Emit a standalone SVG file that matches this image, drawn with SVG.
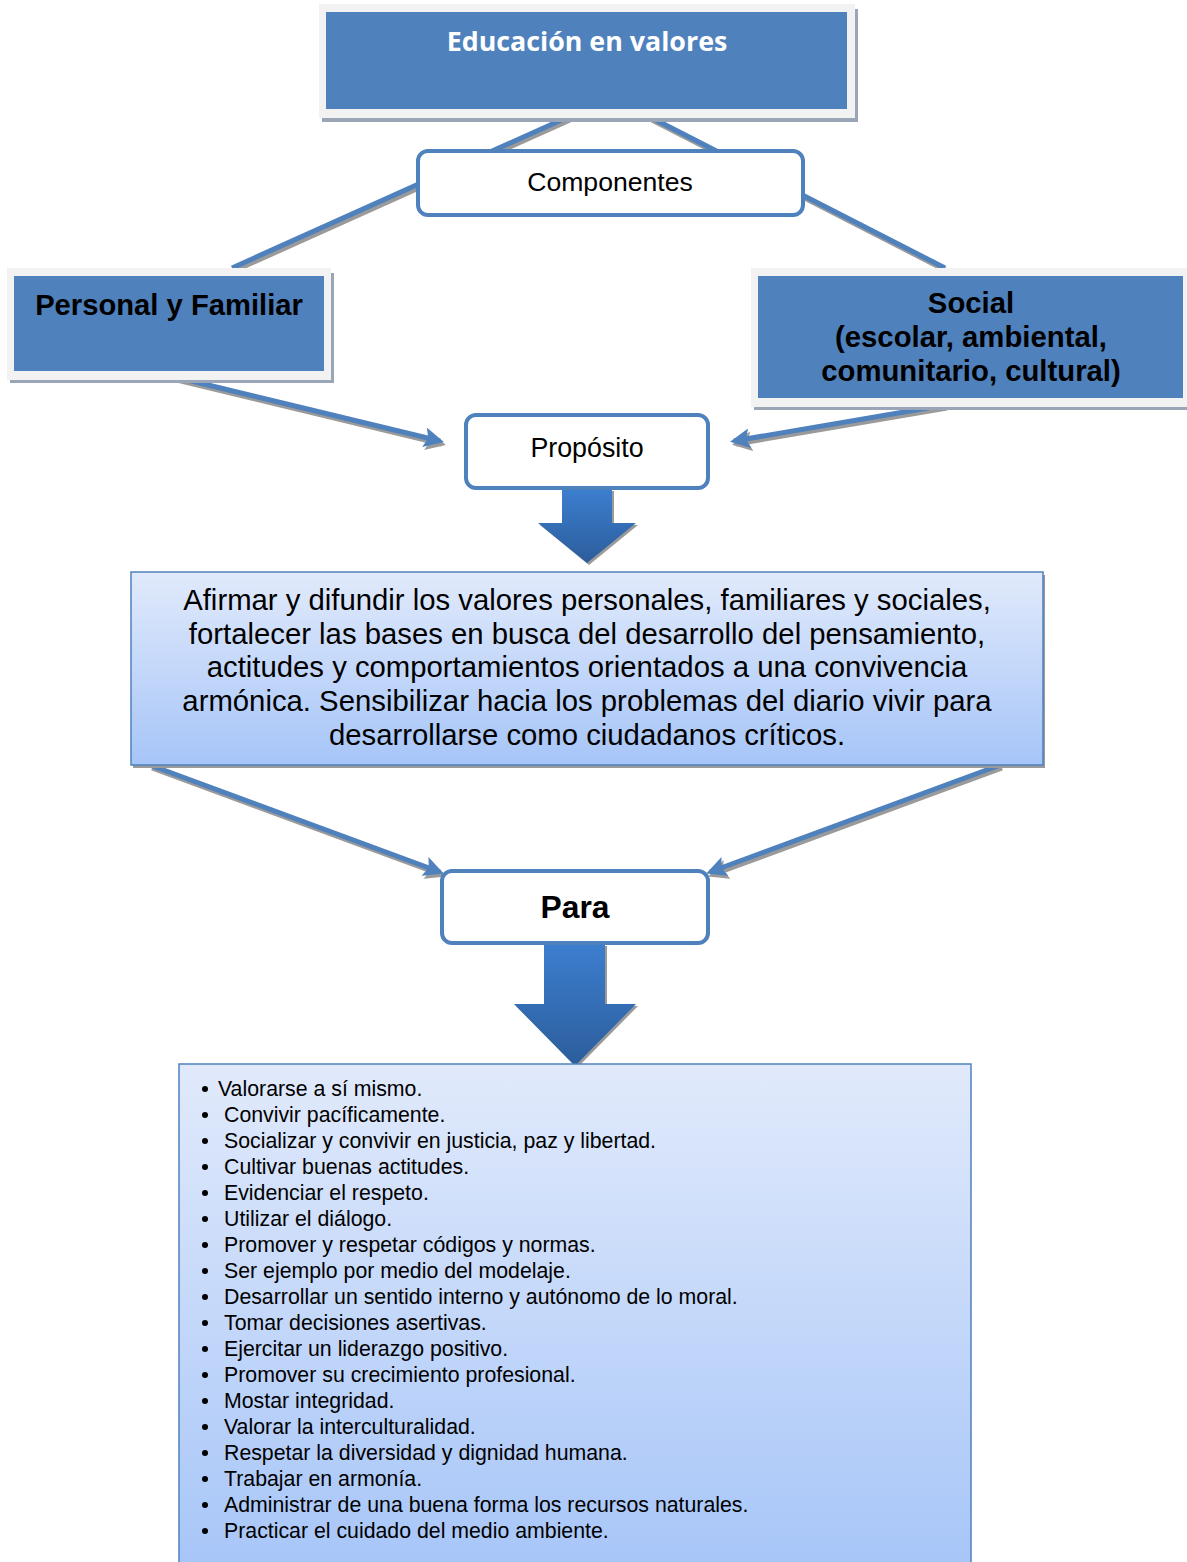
<svg xmlns="http://www.w3.org/2000/svg" xmlns:xlink="http://www.w3.org/1999/xlink" width="1187" height="1562" viewBox="0 0 1187 1562">
  <style>
    .frame { fill: #f2f2f2; }
    .fshadow { fill: #9aa6b8; }
    .blue { fill: #4f81bd; }
    .pill { fill: #ffffff; stroke: #4f81bd; stroke-width: 4; }
    .conn { stroke: #4f81bd; stroke-width: 5; fill: none; }
    .connsh { stroke: #9a9a9a; stroke-width: 5; fill: none; }
    .t { font-family: "Liberation Sans", Arial, sans-serif; fill: #000; text-anchor: middle; }
    .tb { font-weight: bold; }
    .li { font-family: "Liberation Sans", Arial, sans-serif; font-size: 21.3px; fill: #000; }
  </style>
  <defs>
    <marker id="head" viewBox="0 0 10 10" refX="8" refY="5" markerWidth="4" markerHeight="4" orient="auto" markerUnits="strokeWidth">
      <path d="M0,0 L10,5 L0,10 L2,5 z" fill="#4f81bd"/>
    </marker>
    <marker id="headsh" viewBox="0 0 10 10" refX="8" refY="5" markerWidth="4" markerHeight="4" orient="auto" markerUnits="strokeWidth">
      <path d="M0,0 L10,5 L0,10 L2,5 z" fill="#9a9a9a"/>
    </marker>
    <linearGradient id="boxfill" x1="0" y1="0" x2="0" y2="1">
      <stop offset="0" stop-color="#e1eafb"/>
      <stop offset="1" stop-color="#a6c5f8"/>
    </linearGradient>
    <linearGradient id="bigarrow" x1="0" y1="0" x2="0" y2="1">
      <stop offset="0" stop-color="#3c7ecf"/>
      <stop offset="1" stop-color="#2c5d9b"/>
    </linearGradient>
  </defs>

  <!-- connectors -->
  <g id="connectors">
    <g transform="translate(2,3)">
      <line class="connsh" x1="568" y1="117" x2="232" y2="268"/>
      <line class="connsh" x1="650" y1="117" x2="945" y2="268"/>
      <line class="connsh" x1="175" y1="377" x2="440" y2="441" marker-end="url(#headsh)"/>
      <line class="connsh" x1="945" y1="405" x2="734" y2="441" marker-end="url(#headsh)"/>
      <line class="connsh" x1="150" y1="765" x2="440" y2="872" marker-end="url(#headsh)"/>
      <line class="connsh" x1="1000" y1="765" x2="710" y2="872" marker-end="url(#headsh)"/>
    </g>
    <line class="conn" x1="568" y1="117" x2="232" y2="268"/>
    <line class="conn" x1="650" y1="117" x2="945" y2="268"/>
    <line class="conn" x1="175" y1="377" x2="440" y2="441" marker-end="url(#head)"/>
    <line class="conn" x1="945" y1="405" x2="734" y2="441" marker-end="url(#head)"/>
    <line class="conn" x1="150" y1="765" x2="440" y2="872" marker-end="url(#head)"/>
    <line class="conn" x1="1000" y1="765" x2="710" y2="872" marker-end="url(#head)"/>
    <!-- block arrows -->
    <path d="M564,491 h50 v34 h24 l-49,40 l-49,-40 h24 z" fill="#9a9a9a"/>
    <path d="M562,489 h50 v34 h24 l-49,40 l-49,-40 h24 z" fill="url(#bigarrow)"/>
    <path d="M546,946 h61 v60 h31 l-61,62 l-61,-62 h30 z" fill="#9a9a9a"/>
    <path d="M544,944 h61 v60 h31 l-61,62 l-61,-62 h30 z" fill="url(#bigarrow)"/>
  </g>

  <!-- Educación en valores -->
  <g id="educacion">
    <rect class="fshadow" x="322" y="9" width="536" height="113"/>
    <rect class="frame" x="319" y="4" width="536" height="114"/>
    <rect class="blue" x="326" y="12" width="521" height="97"/>
    <text class="t tb" x="587" y="51" font-size="26.8" style="fill:#fff;font-family:'Open Sans','Liberation Sans',sans-serif">Educación en valores</text>
  </g>

  <!-- Componentes -->
  <g id="componentes">
    <rect class="pill" x="418" y="151" width="385" height="64" rx="10"/>
    <text class="t" x="610" y="191" font-size="26.6">Componentes</text>
  </g>

  <!-- Personal y Familiar -->
  <g id="personal">
    <rect class="fshadow" x="10" y="273" width="324" height="110"/>
    <rect class="frame" x="7" y="268" width="324" height="112"/>
    <rect class="blue" x="14" y="276" width="310" height="95"/>
    <text class="t tb" x="169" y="315" font-size="29.2">Personal y Familiar</text>
  </g>

  <!-- Social -->
  <g id="social">
    <rect class="fshadow" x="754" y="273" width="433" height="137"/>
    <rect class="frame" x="751" y="268" width="436" height="139"/>
    <rect class="blue" x="758" y="276" width="425" height="122"/>
    <text class="t tb" x="971" y="313" font-size="29.3">Social</text>
    <text class="t tb" x="971" y="347" font-size="29.3">(escolar, ambiental,</text>
    <text class="t tb" x="971" y="381" font-size="29.3">comunitario, cultural)</text>
  </g>

  <!-- Propósito -->
  <g id="proposito">
    <rect class="pill" x="466" y="415" width="242" height="73" rx="10"/>
    <text class="t" x="587" y="457" font-size="26.8">Propósito</text>
  </g>

  <!-- Afirmar y difundir -->
  <g id="afirmar">
    <rect x="133" y="575" width="912" height="193" fill="#9a9a9a"/>
    <rect x="131" y="572" width="912" height="193" fill="url(#boxfill)" stroke="#4f81bd" stroke-width="1.5"/>
    <text class="t" x="587" y="610" font-size="29.3">Afirmar y difundir los valores personales, familiares y sociales,</text>
    <text class="t" x="587" y="644" font-size="29.3">fortalecer las bases en busca del desarrollo del pensamiento,</text>
    <text class="t" x="587" y="677" font-size="29.3">actitudes y comportamientos orientados a una convivencia</text>
    <text class="t" x="587" y="711" font-size="29.3">armónica. Sensibilizar hacia los problemas del diario vivir para</text>
    <text class="t" x="587" y="745" font-size="29.3">desarrollarse como ciudadanos críticos.</text>
  </g>

  <!-- Para -->
  <g id="para">
    <rect class="pill" x="442" y="871" width="266" height="72" rx="10"/>
    <text class="t tb" x="575" y="918" font-size="31.8">Para</text>
  </g>

  <!-- Lista de objetivos -->
  <g id="lista">
    <rect x="179" y="1064" width="792" height="510" fill="url(#boxfill)" stroke="#4f81bd" stroke-width="1.5"/>
    <g fill="#000">
      <circle cx="205" cy="1089" r="3"/>
      <circle cx="205" cy="1115" r="3"/>
      <circle cx="205" cy="1141" r="3"/>
      <circle cx="205" cy="1167" r="3"/>
      <circle cx="205" cy="1193" r="3"/>
      <circle cx="205" cy="1219" r="3"/>
      <circle cx="205" cy="1245" r="3"/>
      <circle cx="205" cy="1271" r="3"/>
      <circle cx="205" cy="1297" r="3"/>
      <circle cx="205" cy="1323" r="3"/>
      <circle cx="205" cy="1349" r="3"/>
      <circle cx="205" cy="1375" r="3"/>
      <circle cx="205" cy="1401" r="3"/>
      <circle cx="205" cy="1427" r="3"/>
      <circle cx="205" cy="1453" r="3"/>
      <circle cx="205" cy="1479" r="3"/>
      <circle cx="205" cy="1505" r="3"/>
      <circle cx="205" cy="1531" r="3"/>
    </g>
    <text class="li" x="218" y="1096">Valorarse a sí mismo.</text>
    <text class="li" x="224" y="1122">Convivir pacíficamente.</text>
    <text class="li" x="224" y="1148">Socializar y convivir en justicia, paz y libertad.</text>
    <text class="li" x="224" y="1174">Cultivar buenas actitudes.</text>
    <text class="li" x="224" y="1200">Evidenciar el respeto.</text>
    <text class="li" x="224" y="1226">Utilizar el diálogo.</text>
    <text class="li" x="224" y="1252">Promover y respetar códigos y normas.</text>
    <text class="li" x="224" y="1278">Ser ejemplo por medio del modelaje.</text>
    <text class="li" x="224" y="1304">Desarrollar un sentido interno y autónomo de lo moral.</text>
    <text class="li" x="224" y="1330">Tomar decisiones asertivas.</text>
    <text class="li" x="224" y="1356">Ejercitar un liderazgo positivo.</text>
    <text class="li" x="224" y="1382">Promover su crecimiento profesional.</text>
    <text class="li" x="224" y="1408">Mostar integridad.</text>
    <text class="li" x="224" y="1434">Valorar la interculturalidad.</text>
    <text class="li" x="224" y="1460">Respetar la diversidad y dignidad humana.</text>
    <text class="li" x="224" y="1486">Trabajar en armonía.</text>
    <text class="li" x="224" y="1512">Administrar de una buena forma los recursos naturales.</text>
    <text class="li" x="224" y="1538">Practicar el cuidado del medio ambiente.</text>
  </g>
</svg>
